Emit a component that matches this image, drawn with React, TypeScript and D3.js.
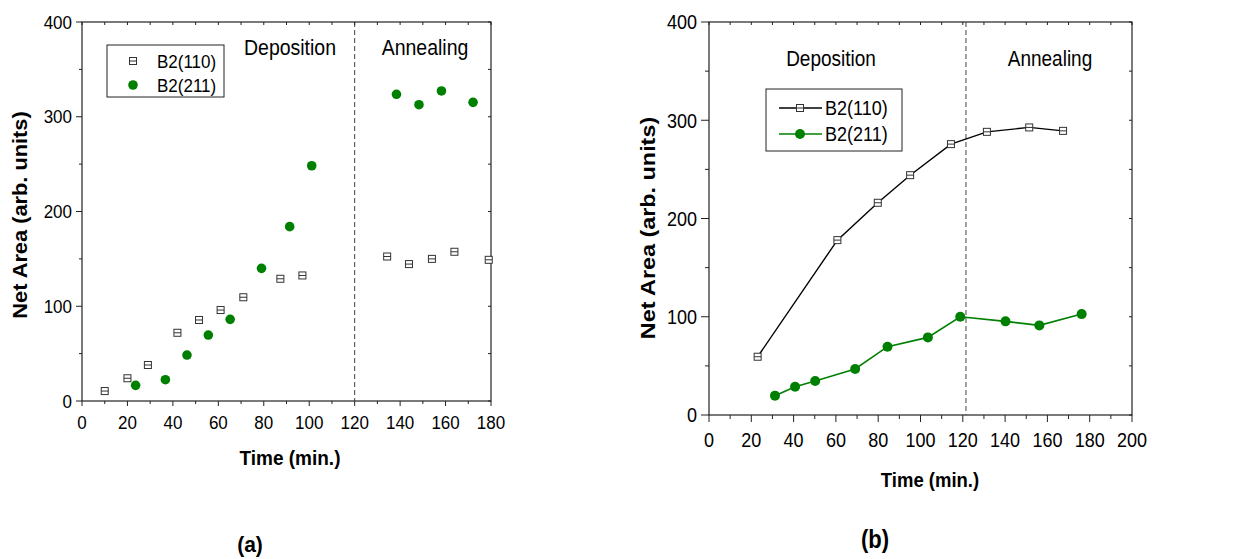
import React from 'react';
import * as d3 from 'd3';

// panel (a) : scatter
const timeA110 = [10, 20, 29, 42, 51.5, 61, 71, 87.3, 97, 134.3, 143.9, 154, 163.9, 179];
const areaA110 = [10.5, 24, 38, 72, 85.5, 96, 109.5, 129, 132.5, 152.5, 144.5, 150, 157.5, 149];
const timeA211 = [23.6, 36.7, 46.2, 55.6, 65.2, 79, 91.4, 101.1, 138.4, 148.3, 158.2, 172.1];
const areaA211 = [16.5, 22.5, 48.5, 69.6, 86.2, 140, 184, 248.3, 323.7, 312.7, 327.2, 315.2];

// panel (b) : line + symbol
const timeB110 = [23, 60.7, 79.8, 95.1, 114.4, 131.4, 151.4, 167.4];
const areaB110 = [59.3, 178, 216, 244.1, 275.7, 288.2, 292.7, 289.2];
const timeB211 = [31.2, 40.7, 50.2, 69.1, 84.4, 103.5, 118.8, 140.2, 156.2, 176.2];
const areaB211 = [19.7, 28.8, 34.6, 46.8, 69.5, 79, 100, 95.3, 91.2, 102.7];

const xTicksA = [0, 20, 40, 60, 80, 100, 120, 140, 160, 180];
const xTicksB = [0, 20, 40, 60, 80, 100, 120, 140, 160, 180, 200];
const yTicks = [0, 100, 200, 300, 400];
const seriesNames = ['B2(110)', 'B2(211)'];
const phaseNames = ['Deposition', 'Annealing'];

const FONT = '"Liberation Sans", Arial, Helvetica, sans-serif';
const GREEN = '#008000';
const INK = '#222';

// text that is a bit taller than wide, like the scanned figure
const T = ({ x, y, sy = 1, rot = false, children, ...rest }) => (
  <text
    transform={rot ? `translate(${x},${y}) rotate(-90) scale(${sy},1)` : `translate(${x},${y}) scale(1,${sy})`}
    {...rest}
  >
    {children}
  </text>
);

const Square = ({ x, y, s = 7 }) => (
  <g>
    <rect x={x - s / 2} y={y - s / 2} width={s} height={s} fill="#fff" stroke="#333" strokeWidth={1} />
    <line x1={x - s / 2} x2={x + s / 2} y1={y} y2={y} stroke="#333" strokeWidth={1} />
  </g>
);

const Panel = ({ cfg }) => {
  const { left, right, top, bottom, xMax, xTicks, lines, fs, tickMaj, tickMin, sy } = cfg;
  const x = d3.scaleLinear().domain([0, xMax]).range([left, right]);
  const y = d3.scaleLinear().domain([0, 400]).range([bottom, top]);
  const minorX = d3.range(0, xMax + 1, 10);
  const minorY = d3.range(0, 401, 50);

  const s110 = cfg.t110.map((t, i) => [t, cfg.a110[i]]);
  const s211 = cfg.t211.map((t, i) => [t, cfg.a211[i]]);
  const line = d3.line().x(d => x(d[0])).y(d => y(d[1]));

  return (
    <g fontFamily={FONT} fill="#000">
      {/* frame */}
      <rect x={left} y={top} width={right - left} height={bottom - top} fill="none" stroke={INK} strokeWidth={1.2} />

      {/* dashed phase separator */}
      <line x1={x(cfg.split)} x2={x(cfg.split)} y1={top} y2={bottom} stroke="#444" strokeWidth={1} strokeDasharray="5,3" />

      {/* x ticks */}
      {minorX.map(v => {
        const maj = v % 20 === 0;
        return (
          <g key={'x' + v}>
            <line x1={x(v)} x2={x(v)} y1={bottom} y2={bottom + (maj ? tickMaj : tickMin)} stroke={INK} />
            <line x1={x(v)} x2={x(v)} y1={top} y2={top + 3} stroke={INK} />
          </g>
        );
      })}
      {xTicks.map(v => (
        <T key={'xl' + v} x={x(v)} y={cfg.xLabelY} sy={sy} textAnchor="middle" fontSize={fs}>{v}</T>
      ))}

      {/* y ticks */}
      {minorY.map(v => {
        const maj = v % 100 === 0;
        return (
          <g key={'y' + v}>
            <line x1={left - (maj ? tickMaj + 1 : tickMin)} x2={left} y1={y(v)} y2={y(v)} stroke={INK} />
            <line x1={right - 3} x2={right} y1={y(v)} y2={y(v)} stroke={INK} />
          </g>
        );
      })}
      {yTicks.map(v => (
        <T key={'yl' + v} x={left - cfg.yLabelGap} y={y(v)} sy={sy} dy="0.36em" textAnchor="end" fontSize={fs}>{v}</T>
      ))}

      {/* axis titles */}
      <T x={cfg.xTitle[0]} y={cfg.xTitle[1]} sy={sy} textAnchor="middle" fontWeight="bold" fontSize={cfg.titleFs}>Time (min.)</T>
      <T x={cfg.yTitle[0]} y={cfg.yTitle[1]} sy={sy} rot textAnchor="middle" dy="0.36em"
        fontWeight="bold" fontSize={cfg.yTitleFs}>Net Area (arb. units)</T>
      <T x={cfg.tag[0]} y={cfg.tag[1]} sy={sy} textAnchor="middle" fontWeight="bold" fontSize={cfg.tagFs}>{cfg.tagText}</T>

      {/* phase labels */}
      <T x={cfg.phase[0]} y={cfg.phase[2]} sy={sy} textAnchor="middle" fontSize={cfg.phaseFs}>{phaseNames[0]}</T>
      <T x={cfg.phase[1]} y={cfg.phase[2]} sy={sy} textAnchor="middle" fontSize={cfg.phaseFs}>{phaseNames[1]}</T>

      {/* series */}
      {lines && <path d={line(s110)} fill="none" stroke="#000" strokeWidth={1.4} />}
      {lines && <path d={line(s211)} fill="none" stroke={GREEN} strokeWidth={1.6} />}
      {s110.map((d, i) => <Square key={'s' + i} x={x(d[0])} y={y(d[1])} />)}
      {s211.map((d, i) => <circle key={'c' + i} cx={x(d[0])} cy={y(d[1])} r={cfg.r} fill={GREEN} />)}

      {/* legend */}
      <rect x={cfg.legend.x} y={cfg.legend.y} width={cfg.legend.w} height={cfg.legend.h} fill="#fff" stroke={INK} strokeWidth={1} />
      {seriesNames.map((n, i) => {
        const ly = cfg.legend.y + cfg.legend.row0 + i * cfg.legend.rowH;
        const mx = cfg.legend.mx;
        return (
          <g key={n}>
            {lines && <line x1={mx - 21} x2={mx + 22} y1={ly} y2={ly} stroke={i === 0 ? '#000' : GREEN} strokeWidth={1.4} />}
            {i === 0 ? <Square x={mx} y={ly} /> : <circle cx={mx} cy={ly} r={cfg.r} fill={GREEN} />}
            <T x={cfg.legend.tx} y={ly} sy={sy} dy="0.36em" fontSize={cfg.legend.fs}>{n}</T>
          </g>
        );
      })}
    </g>
  );
};

const cfgA = {
  left: 82, right: 491, top: 22, bottom: 401, xMax: 180, xTicks: xTicksA, lines: false, sy: 1.09,
  t110: timeA110, a110: areaA110, t211: timeA211, a211: areaA211,
  split: 120, fs: 17, tickMaj: 5, tickMin: 3, xLabelY: 429, yLabelGap: 10,
  xTitle: [290, 465], titleFs: 19, yTitle: [20, 215], yTitleFs: 20,
  tag: [250, 552], tagText: '(a)', tagFs: 21, phase: [290, 55], phaseFs: 19.5, r: 4.8,
  legend: { x: 107, y: 45, w: 117, h: 52, row0: 16, rowH: 24, mx: 133, tx: 157, fs: 17 },
};
cfgA.phase = [290, 425, 55];

const cfgB = {
  left: 709, right: 1132, top: 22, bottom: 415, xMax: 200, xTicks: xTicksB, lines: true, sy: 1.14,
  t110: timeB110, a110: areaB110, t211: timeB211, a211: areaB211,
  split: 121.5, fs: 18, tickMaj: 7, tickMin: 4, xLabelY: 447, yLabelGap: 12,
  xTitle: [930, 487], titleFs: 18.5, yTitle: [648, 228], yTitleFs: 20.5,
  tag: [875, 548], tagText: '(b)', tagFs: 22, phase: [831, 1050, 66], phaseFs: 19, r: 5,
  legend: { x: 766, y: 89, w: 136, h: 62, row0: 19, rowH: 26, mx: 800, tx: 825, fs: 18 },
};

export default function App() {
  return (
    <svg width={1250} height={559} style={{ position: 'absolute', left: 0, top: 0, background: '#fff' }}>
      <Panel cfg={cfgA} />
      <Panel cfg={cfgB} />
    </svg>
  );
}
